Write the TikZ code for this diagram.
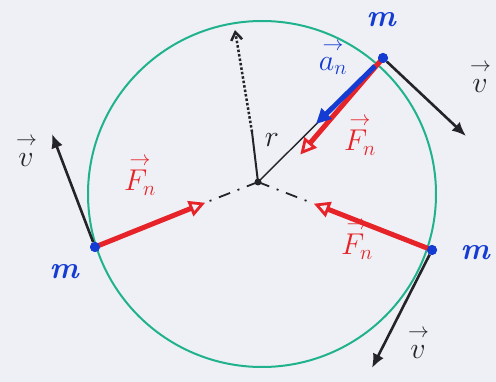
\documentclass[tikz,border=0pt]{standalone}
\usetikzlibrary{arrows.meta}
\definecolor{bg}{RGB}{238,240,245}
\definecolor{ring}{RGB}{32,178,140}
\definecolor{pen}{RGB}{35,35,40}
\definecolor{bluepen}{RGB}{20,60,210}
\definecolor{redpen}{RGB}{230,35,40}
\newcommand\myvec[2][1pt]{\scalebox{1.45}{$\stackrel{\raisebox{#1}{$\scriptstyle\rightarrow$}}{#2}$}}
\newcommand\massm{\scalebox{3.1}{\bfseries\itshape m}}
\begin{document}
\begin{tikzpicture}[x=1pt,y=-1pt,
  massdot/.style={circle,fill=bluepen,inner sep=0pt,minimum size=10pt},
  centerdot/.style={circle,fill=pen,inner sep=0pt,minimum size=7pt},
  masslabel/.style={text=bluepen,inner sep=1pt},
  veclabel/.style={font=\huge,inner sep=1pt},
  velarrow/.style={draw=pen,line width=2.6pt,-{Latex[length=14pt,width=12pt]}},
  forcearrow/.style={draw=redpen,line width=5pt,-{Triangle[open,length=16pt,width=16pt,line width=2.8pt]},shorten >=2pt},
  accarrow/.style={draw=bluepen,line width=5pt,-{Triangle[length=15pt,width=14pt]}},
  dashline/.style={draw=pen,line width=1.8pt,dash pattern=on 12pt off 8pt on 2pt off 8pt},
]
\useasboundingbox (0,0) rectangle (496,382);
\fill[bg] (0,0) rectangle (496,382);

% circle
\draw[ring,line width=2pt] (262,194) ellipse [x radius=174, y radius=173];

% key points
\node[centerdot] (O) at (258,182) {};
\node[massdot] (mA) at (383,58) {};
\node[massdot] (mB) at (95,247) {};
\node[massdot] (mC) at (432,250) {};

\coordinate (rtop) at (235,30);
\coordinate (rmid) at (252,132);
\coordinate (accTip) at (316,124);
\coordinate (accStart) at (375,66);
\coordinate (fATip) at (299,156);
\coordinate (fBTip) at (207,202);
\coordinate (fCTip) at (312,203);
\coordinate (vATip) at (466,136);
\coordinate (vBTip) at (52,134);
\coordinate (vCTip) at (372,368);

% radius lines
\draw[pen,line width=1.4pt] (O.center) -- (mA.center);
\draw[pen,line width=2pt] (O.center) -- (rmid);
\draw[pen,line width=2.5pt,dotted,-{Straight Barb[length=8pt,width=11pt]}] (rmid) -- (rtop);
\draw[dashline] (O.center) -- (fBTip);
\draw[dashline] (O.center) -- (fCTip);

% velocity arrows
\draw[velarrow] (mA) -- (vATip);
\draw[velarrow] (mB) -- (vBTip);
\draw[velarrow] (mC) -- (vCTip);

% forces
\draw[forcearrow] (mA.center) -- (fATip);
\draw[forcearrow] (mB.center) -- (fBTip);
\draw[forcearrow] (mC.center) -- (fCTip);

% acceleration
\draw[accarrow] (accStart) -- (accTip);

% redraw dots on top
\node[massdot] at (mA) {};
\node[massdot] at (mB) {};
\node[massdot] at (mC) {};

% labels
\node[masslabel] (lA) at (381,20) {\massm};
\node[masslabel] (lB) at (64,272) {\massm};
\node[masslabel] (lC) at (475,253) {\massm};
\node[veclabel,text=bluepen] (la) at (333,58) {\myvec[3pt]{a_n}};
\node[veclabel,text=redpen] (lFA) at (360,136) {\myvec{F_n}};
\node[veclabel,text=redpen] (lFB) at (140,176) {\myvec{F_n}};
\node[veclabel,text=redpen] (lFC) at (357,240) {\myvec{F_n}};
\node[veclabel,text=pen] (lvA) at (480,78) {\myvec[4pt]{v}};
\node[veclabel,text=pen] (lvB) at (26,152) {\myvec[4pt]{v}};
\node[veclabel,text=pen] (lvC) at (418,344) {\myvec[4pt]{v}};
\node[veclabel,text=pen] (lr) at (272,140) {\scalebox{1.45}{$r$}};
\end{tikzpicture}
\end{document}
